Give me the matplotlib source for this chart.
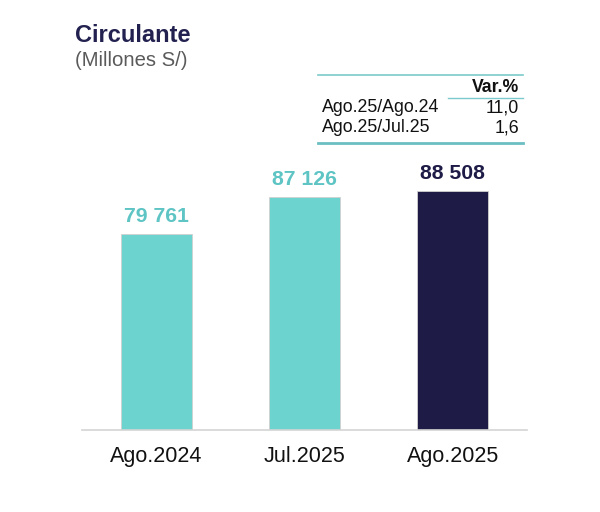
import matplotlib
matplotlib.use('Agg')
import matplotlib.pyplot as plt
from matplotlib.lines import Line2D

plt.rcParams['font.family'] = ['Liberation Sans', 'DejaVu Sans']

#Data
categories = ['Ago.2024', 'Jul.2025', 'Ago.2025']
values = [79761, 87126, 88508]
table_rows = ['Ago.25/Ago.24', 'Ago.25/Jul.25']
table_vals = ['11,0', '1,6']

#Colours
teal = '#6DD3CF'
teal_text = '#5EC4C4'
navy = '#1E1C47'
bar_colors = [teal, teal, navy]
label_colors = [teal_text, teal_text, navy]

W, H = 600, 512
fig = plt.figure(figsize=(W / 100, H / 100), dpi=100)

#pixel -> figure fraction
def fx(px):
    return px / W

def fy(py):
    return 1 - py / H

ax = fig.add_axes([fx(82), fy(429.5), fx(527) - fx(82), fy(150) - fy(429.5)])
x = range(len(categories))
ax.bar(x, values, width=0.48, color=bar_colors, edgecolor='#D0D0D0', linewidth=0.6)
for i, v in enumerate(values):
    ax.text(i, v + 1600, f'{v:,}'.replace(',', ' '), ha='center', va='bottom',
            fontsize=15.3, fontweight='bold', color=label_colors[i])

ax.set_xlim(-0.5, 2.5)
ax.set_ylim(40000, 96728)
ax.set_xticks(list(x))
ax.set_xticklabels(categories, fontsize=15.5, color='#111111')
ax.tick_params(axis='x', length=0, pad=12)
ax.set_yticks([])
for s in ['top', 'left', 'right']:
    ax.spines[s].set_visible(False)
ax.spines['bottom'].set_color('#D4D4D4')
ax.spines['bottom'].set_linewidth(1.2)

#Title
fig.text(fx(75), fy(36), 'Circulante', fontsize=17, fontweight='bold', color='#23214F', va='center')
fig.text(fx(75), fy(61), '(Millones S/)', fontsize=14.6, color='#5A5A5A', va='center')

#Small variation table
fig.add_artist(Line2D([fx(318), fx(523)], [fy(75), fy(75)], color='#7CCACB', lw=1.2, transform=fig.transFigure))
fig.add_artist(Line2D([fx(448), fx(523)], [fy(98), fy(98)], color='#7CCACB', lw=1.0, transform=fig.transFigure))
fig.add_artist(Line2D([fx(318), fx(523)], [fy(143), fy(143)], color='#6BBFC2', lw=2.0, transform=fig.transFigure))
fig.text(fx(519), fy(88), 'Var.%', fontsize=12.7, fontweight='bold', ha='right', va='center', color='#111111')
for i, (r, v) in enumerate(zip(table_rows, table_vals)):
    yy = fy(108 + 20 * i)
    fig.text(fx(322), yy, r, fontsize=12.8, ha='left', va='center', color='#111111')
    fig.text(fx(519), yy, v, fontsize=12.8, ha='right', va='center', color='#111111')

fig.savefig('out.png', dpi=100, facecolor='white')
